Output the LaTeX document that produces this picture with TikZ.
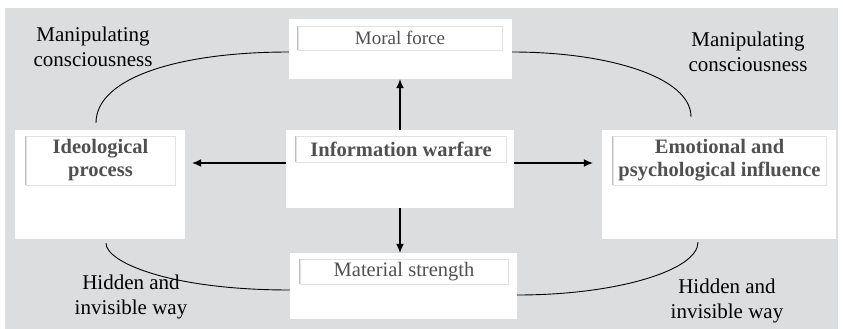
\documentclass[tikz,border=0pt]{standalone}
\usepackage{fontspec}
\setmainfont{Liberation Serif}
\usetikzlibrary{arrows.meta}
\definecolor{bggray}{RGB}{220,221,223}
\definecolor{txtgray}{RGB}{80,80,80}
\definecolor{framegray}{RGB}{226,226,226}
\definecolor{edgegray}{RGB}{190,190,190}

\begin{document}
\begin{tikzpicture}[x=1pt, y=-1pt,
  panel/.style={fill=white, inner sep=0pt},
  tag/.style={draw=framegray, line width=0.8pt, inner sep=0pt, text=txtgray, align=center},
  note/.style={align=center, font=\fontsize{21}{25}\selectfont},
  link/.style={-{Latex[length=9pt,width=8pt]}, line width=1.2pt},
  arc/.style={line width=0.9pt}]
\useasboundingbox (0,0) rectangle (843,329);
\fill[bggray] (5,8) rectangle (838,329);

\node[panel, minimum width=223pt, minimum height=60pt] (moral) at (400.5,49) {};
\node[panel, minimum width=228pt, minimum height=78pt] (info) at (400,169) {};
\node[panel, minimum width=227pt, minimum height=66pt] (mat) at (403.5,286) {};
\node[panel, minimum width=170pt, minimum height=109pt] (ideo) at (100,184.5) {};
\node[panel, minimum width=234pt, minimum height=109pt] (emo) at (719,184.5) {};

\node[tag, minimum width=204pt, minimum height=24pt, font=\fontsize{19}{22}\selectfont] (t1) at (400,38) {Moral force};
\node[tag, minimum width=210pt, minimum height=26pt, font=\fontsize{20.5}{23}\selectfont\bfseries] (t2) at (401,149) {Information warfare};
\node[tag, minimum width=208pt, minimum height=25pt, font=\fontsize{20.5}{23}\selectfont] (t3) at (404,271.5) {Material strength};
\node[tag, minimum width=149pt, minimum height=49pt, font=\fontsize{20.5}{23}\selectfont\bfseries] (t4) at (100.5,160.5) {Ideological\\process};
\node[tag, minimum width=213pt, minimum height=49pt, font=\fontsize{20.5}{23}\selectfont\bfseries] (t5) at (719.5,160.5) {Emotional and\\psychological influence};
\foreach \t in {t1,t2,t3,t4,t5}
  \draw[edgegray, line width=1pt] (\t.north west) -- (\t.south west);

\node[note] (n1) at (93,47) {Manipulating\\consciousness};
\node[note] (n2) at (748,52) {Manipulating\\consciousness};
\node[note] (n3) at (131,297) {Hidden and\\invisible way};
\node[note] (n4) at (727,301) {Hidden and\\invisible way};

\draw[link] (info.north) -- (info.north |- moral.south);
\draw[link] (info.south) -- (info.south |- mat.north);
\draw[link, shorten >=7pt] ([yshift=6pt]info.west) -- ([yshift=6pt]info.west -| ideo.east);
\draw[link, shorten >=9pt] ([yshift=6pt]info.east) -- ([yshift=6pt]info.east -| emo.west);

\draw[arc] ([shift={(-4,-7)}]ideo.north) .. controls +(0,-45) and +(-110,0) .. ([yshift=-3pt]moral.west);
\draw[arc] ([yshift=-3pt]moral.east) .. controls +(95,0) and +(0,-40) .. ([shift={(-28,-13)}]emo.north);
\draw[arc] ([shift={(6,4)}]ideo.south) .. controls +(0,19) and +(-120,0) .. ([yshift=-4pt]mat.west);
\draw[arc] ([yshift=-9pt]mat.east) .. controls +(100,0) and +(0,28) .. ([shift={(-21,3)}]emo.south);
\end{tikzpicture}
\end{document}
